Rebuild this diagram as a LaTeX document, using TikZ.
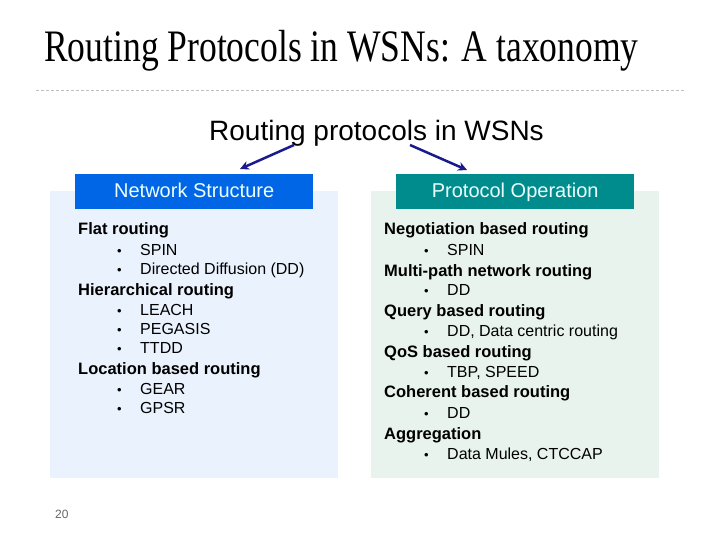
\documentclass[tikz,border=0pt]{standalone}
\usepackage{fontspec}
\setmainfont{Liberation Sans}
\newfontfamily\titlefont[FakeStretch=0.79]{Liberation Serif}
\usepackage{xcolor}
\usepackage{tikz}
\usetikzlibrary{positioning,arrows.meta}
\definecolor{nsblue}{RGB}{0,102,230}
\definecolor{nsback}{RGB}{234,243,253}
\definecolor{opteal}{RGB}{0,140,140}
\definecolor{opback}{RGB}{232,243,237}
\definecolor{navy}{RGB}{26,26,140}
\definecolor{headtext}{RGB}{235,255,255}
\newcommand{\bul}{\makebox[23pt][l]{\fontsize{13}{16}\selectfont\textbullet}}
\begin{document}
\begin{tikzpicture}[
 x=1pt, y=-1pt,
 panel/.style={rectangle, anchor=north west, minimum width=288pt, minimum height=287pt, inner sep=0pt},
 head/.style={rectangle, anchor=north west, minimum width=238pt, minimum height=35pt, inner sep=0pt, text height=14pt, text depth=3pt, text=headtext, font=\fontsize{20}{22}\selectfont},
 cat/.style={anchor=base west, inner sep=0pt, font=\bfseries\fontsize{16.5}{20}\selectfont},
 item/.style={anchor=base west, inner sep=0pt, font=\fontsize{16}{18}\selectfont},
 arrow/.style={-{Stealth[length=9pt, width=9pt]}, line width=2.5pt, draw=navy}
 ]
 \useasboundingbox (0,0) rectangle (720,540);
 % Title
 \node[anchor=base west, inner sep=0pt, font=\titlefont\fontsize{45}{50}\selectfont] (title) at (44,62) {Routing Protocols in WSNs: A taxonomy};
 \draw[gray!50, dash pattern=on 3pt off 2pt] (36,90) -- (686,90);
 \node[anchor=base west, inner sep=0pt, font=\fontsize{28}{32}\selectfont] (root) at (209,141) {Routing protocols in WSNs};
 % Panels
 \node[panel, fill=nsback] (nspanel) at (50,191) {};
 \node[panel, fill=opback] (oppanel) at (371,191) {};
 \node[head, fill=nsblue] (ns) at (75,174) {Network Structure};
 \node[head, fill=opteal] (op) at (396,174) {Protocol Operation};
 % Network Structure
 \node[cat] (flat) at (78,235) {Flat routing};
 \node[item] (spin) at (117,255) {\bul SPIN};
 \node[item] (dd) at (117,274) {\bul Directed Diffusion (DD)};
 \node[cat] (hier) at (78,295) {Hierarchical routing};
 \node[item] (leach) at (117,315) {\bul LEACH};
 \node[item] (pegasis) at (117,334) {\bul PEGASIS};
 \node[item] (ttdd) at (117,353) {\bul TTDD};
 \node[cat] (loc) at (78,374) {Location based routing};
 \node[item] (gear) at (117,394) {\bul GEAR};
 \node[item] (gpsr) at (117,413) {\bul GPSR};
 % Protocol Operation
 \node[cat] (nego) at (384,235) {Negotiation based routing};
 \node[item] (nspin) at (424,255) {\bul SPIN};
 \node[cat] (multi) at (384,276) {Multi-path network routing};
 \node[item] (mdd) at (424,295) {\bul DD};
 \node[cat] (query) at (384,316) {Query based routing};
 \node[item] (qdd) at (424,336) {\bul DD, Data centric routing};
 \node[cat] (qos) at (384,357) {QoS based routing};
 \node[item] (tbp) at (424,377) {\bul TBP, SPEED};
 \node[cat] (coh) at (384,397) {Coherent based routing};
 \node[item] (cdd) at (424,418) {\bul DD};
 \node[cat] (aggr) at (384,439) {Aggregation};
 \node[item] (mules) at (424,459) {\bul Data Mules, CTCCAP};
 % Arrows
 \coordinate (lfrom) at (294,145);
 \coordinate (lto) at (240,169);
 \coordinate (rfrom) at (410,145);
 \coordinate (rto) at (467,170);
 \draw[arrow] (lfrom) -- (lto);
 \draw[arrow] (rfrom) -- (rto);
 % Page number
 \node[anchor=base west, inner sep=0pt, text=gray!80!black, font=\fontsize{12}{14}\selectfont] (page) at (55,518) {20};
\end{tikzpicture}
\end{document}
